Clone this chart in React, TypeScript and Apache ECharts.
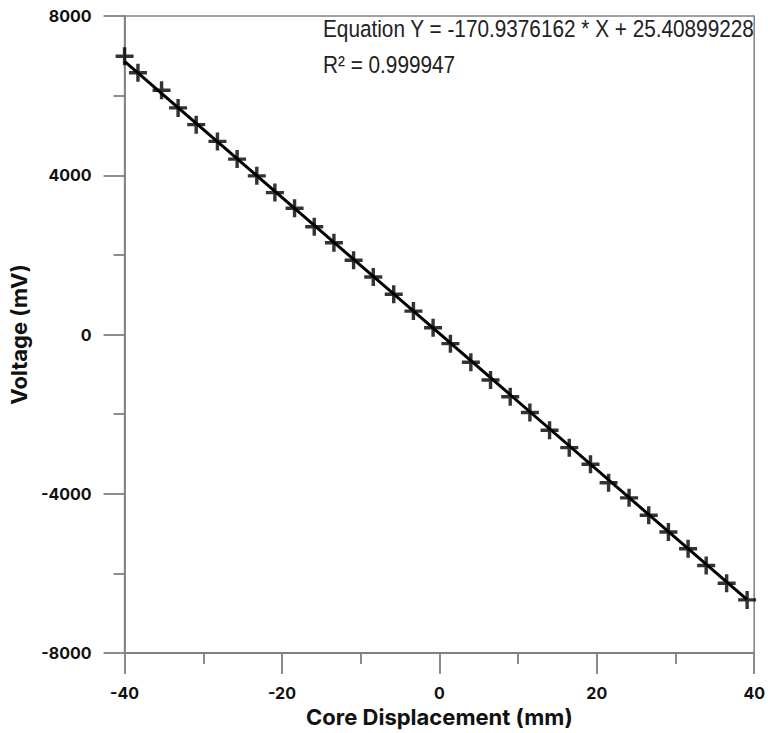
import React, { useEffect, useRef } from "react";
import * as echarts from "echarts";

// Measured data points (Core Displacement in mm, Voltage in mV)
const xValues = [
  -40, -38.3, -35.3, -33.2, -30.9, -28.2, -25.7, -23.2, -20.9, -18.4, -15.9,
  -13.4, -10.9, -8.4, -5.8, -3.3, -0.8, 1.4, 4.0, 6.5, 9.0, 11.5, 14.0, 16.5,
  19.2, 21.5, 24.1, 26.6, 29.1, 31.6, 33.9, 36.5, 39.1,
];
const yValues = [
  6990, 6575, 6136, 5692, 5271, 4850, 4406, 3985, 3564, 3170, 2706, 2303,
  1866, 1445, 1009, 588, 169, -230, -699, -1143, -1564, -1960, -2404, -2842,
  -3261, -3725, -4103, -4540, -4961, -5380, -5801, -6247, -6666,
];
// Fitted line end points
const fitX = [-40, 39.1];
const fitY = [6863, -6660];

const equationText = "Equation Y = -170.9376162 * X + 25.40899228";
const r2Text = "R\u00B2 = 0.999947";
const xAxisTitle = "Core Displacement (mm)";
const yAxisTitle = "Voltage (mV)";

const PLUS =
  "path://M-0.19,-1L0.19,-1L0.19,-0.19L1,-0.19L1,0.19L0.19,0.19L0.19,1L-0.19,1L-0.19,0.19L-1,0.19L-1,-0.19L-0.19,-0.19Z";

export default function App() {
  const ref = useRef<HTMLDivElement>(null);
  useEffect(() => {
    if (!ref.current) return;
    const chart = echarts.init(ref.current, undefined, { renderer: "svg" });
    const axisGrey = "#808080";
    const labelFont = {
      fontFamily: "Inter, 'Liberation Sans', sans-serif",
      fontWeight: "bold" as const,
      fontSize: 16,
      color: "#111",
      formatter: (v: number) => String(v),
    };
    const titleFont = {
      fontFamily: "Inter, 'Liberation Sans', sans-serif",
      fontWeight: "bold" as const,
      fontSize: 22,
      color: "#111",
    };
    chart.setOption({
      animation: false,
      backgroundColor: "#ffffff",
      grid: {
        left: 120,
        right: 11,
        top: 16,
        bottom: 80,
        show: true,
        borderColor: axisGrey,
        borderWidth: 1.5,
        backgroundColor: "transparent",
      },
      xAxis: {
        type: "value",
        min: -40,
        max: 40,
        interval: 20,
        name: xAxisTitle,
        nameLocation: "middle",
        nameGap: 52,
        nameTextStyle: titleFont,
        axisLine: { show: true, onZero: false, lineStyle: { color: axisGrey, width: 1.8 } },
        axisTick: { show: true, length: 21, lineStyle: { color: axisGrey, width: 1.8 } },
        minorTick: { show: true, splitNumber: 2, length: 11, lineStyle: { color: axisGrey, width: 1.8 } },
        splitLine: { show: false },
        minorSplitLine: { show: false },
        axisLabel: { ...labelFont, margin: 32 },
      },
      yAxis: {
        type: "value",
        min: -8000,
        max: 8000,
        interval: 4000,
        name: yAxisTitle,
        nameLocation: "middle",
        nameGap: 77,
        nameRotate: 90,
        nameTextStyle: titleFont,
        axisLine: { show: true, onZero: false, lineStyle: { color: axisGrey, width: 1.8 } },
        axisTick: { show: true, length: 21, lineStyle: { color: axisGrey, width: 1.8 } },
        minorTick: { show: true, splitNumber: 2, length: 11, lineStyle: { color: axisGrey, width: 1.8 } },
        splitLine: { show: false },
        minorSplitLine: { show: false },
        axisLabel: { ...labelFont, margin: 33 },
      },
      graphic: [
        {
          type: "text",
          x: 323,
          y: 28.7,
          scaleX: 0.884,
          style: {
            text: equationText,
            x: 0,
            y: 0,
            font: "23.5px 'Liberation Sans', Arial, sans-serif",
            fill: "#222",
            align: "left",
            verticalAlign: "middle",
          },
        },
        {
          type: "text",
          x: 323,
          y: 65,
          scaleX: 0.884,
          style: {
            text: r2Text,
            x: 0,
            y: 0,
            font: "23.5px 'Liberation Sans', Arial, sans-serif",
            fill: "#222",
            align: "left",
            verticalAlign: "middle",
          },
        },
      ],
      series: [
        {
          type: "line",
          data: fitX.map((x, i) => [x, fitY[i]]),
          showSymbol: false,
          symbol: "none",
          lineStyle: { color: "#000", width: 3 },
          z: 2,
        },
        {
          type: "scatter",
          data: xValues.map((x, i) => [x, yValues[i]]),
          symbol: PLUS,
          symbolSize: 18,
          itemStyle: { color: "#000" },
          clip: false,
          z: 3,
        },
      ],
    });
    return () => chart.dispose();
  }, []);
  return (
    <div
      ref={ref}
      style={{ position: "fixed", left: 0, top: 0, width: 768, height: 733, background: "#fff" }}
    />
  );
}
